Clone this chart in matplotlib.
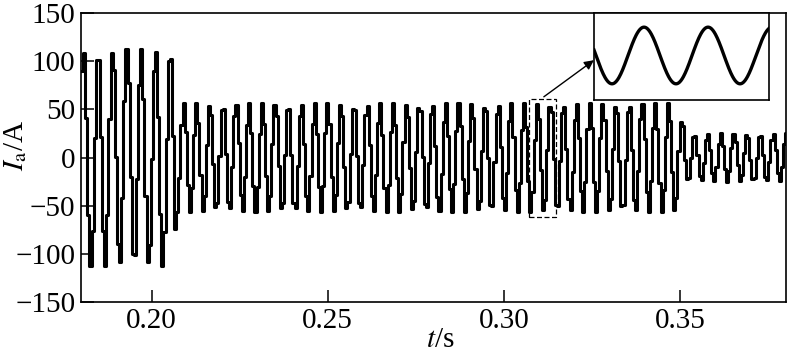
import numpy as np
import matplotlib.pyplot as plt
from matplotlib.patches import Rectangle

plt.rcParams['font.family'] = ['Liberation Serif', 'DejaVu Serif']
plt.rcParams['mathtext.fontset'] = 'stix'

# waveform segments (start, end, amplitude A, frequency Hz)
seg_start = [0.180, 0.2068, 0.3490, 0.3515]
seg_end = [0.2068, 0.3490, 0.3515, 0.380]
seg_amp = [113, 57, 40, 25]
seg_freq = [245, 269, 269, 269]
hold_step = 0.0006  # sample-and-hold step of the recorded current

# zoomed window (dashed box) and inset waveform
win_t = [0.3070, 0.3147]
win_i = [-62, 61]
inset_amp = 57
inset_freq = 355
inset_phase = 2.945

xticks = [0.20, 0.25, 0.30, 0.35]
yticks = [-150, -100, -50, 0, 50, 100, 150]

# build the held current samples
t = np.arange(0.180, 0.380 + hold_step, hold_step)
amp = np.zeros_like(t)
freq = np.zeros_like(t)
for a, b, A, f in zip(seg_start, seg_end, seg_amp, seg_freq):
    m = (t >= a) & (t <= b)
    amp[m] = A
    freq[m] = f
phase = np.cumsum(2 * np.pi * freq * hold_step)
i_a = amp * np.sin(phase)

fig = plt.figure(figsize=(7.87, 3.56), dpi=100)
ax = fig.add_axes([81 / 787, 1 - 302 / 356, (786 - 81) / 787, (302 - 13) / 356])
ax.step(t, i_a, where='post', color='black', lw=2.2)

ax.set_xlim(0.18, 0.38)
ax.set_ylim(-150, 150)
ax.set_xticks(xticks)
ax.set_xticklabels(['%.2f' % v for v in xticks])
ax.set_yticks(yticks)
ax.tick_params(direction='in', length=9, width=1.1, labelsize=21, pad=4)
for s in ax.spines.values():
    s.set_linewidth(1.2)
ax.set_xlabel(r'$t$/s', fontsize=21)
ax.xaxis.set_label_coords(0.509, -0.085)
ax.set_ylabel(r'$I_{\mathrm{a}}$/A', fontsize=21, va='center')
ax.yaxis.set_label_coords(-0.092, 0.543)

# dashed box around the zoomed part
ax.add_patch(Rectangle((win_t[0], win_i[0]), win_t[1] - win_t[0], win_i[1] - win_i[0],
                       fill=False, ls=(0, (4, 2)), lw=0.9, color='black'))

# inset with the smooth waveform
axin = fig.add_axes([594 / 787, 1 - 100 / 356, (769 - 594) / 787, (100 - 13) / 356])
tz = np.linspace(win_t[0], win_t[1], 400)
axin.plot(tz, inset_amp * np.sin(2 * np.pi * inset_freq * (tz - win_t[0]) + inset_phase),
          color='black', lw=2.4)
axin.set_xlim(win_t)
axin.set_ylim(-89.6, 85.5)
axin.set_xticks([])
axin.set_yticks([])
for s in axin.spines.values():
    s.set_linewidth(1.2)

# arrow from the dashed box to the inset
ax.annotate('', xy=(0.3255, 101), xytext=(0.3113, 63),
            arrowprops=dict(arrowstyle='-|>', color='black', lw=1.0,
                            mutation_scale=14, shrinkA=0, shrinkB=0))

fig.savefig('out.png', dpi=100)
